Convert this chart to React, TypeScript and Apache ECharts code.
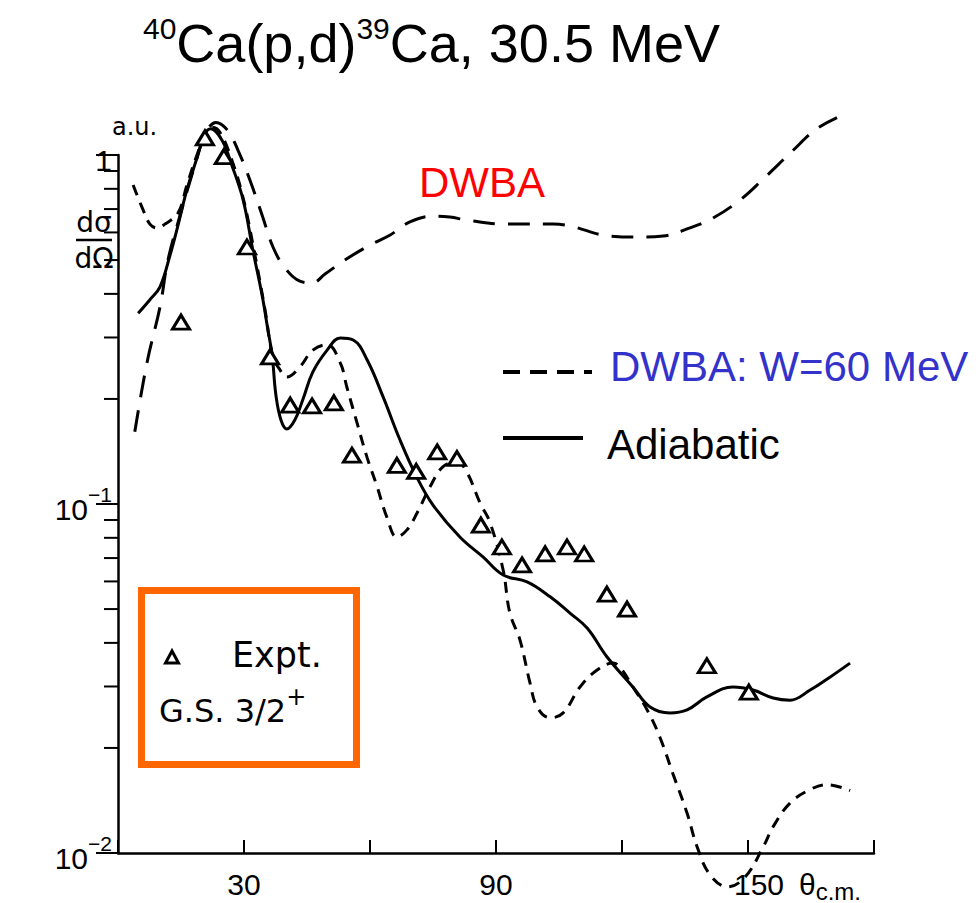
import React, { useEffect, useRef } from "react";
import * as echarts from "echarts";

// ---------- data ----------
const exptTheta = [15.0, 20.7, 25.2, 30.7, 36.2, 41.0, 46.2, 51.4, 55.7, 66.4, 71.0, 76.0, 80.7, 86.4, 91.4, 96.2, 101.7, 106.9, 111.0, 116.4, 121.2, 140.2, 150.2];
const exptSigma = [0.332, 1.12, 0.99, 0.545, 0.264, 0.192, 0.191, 0.195, 0.138, 0.129, 0.124, 0.141, 0.135, 0.087, 0.0753, 0.0669, 0.072, 0.0753, 0.0719, 0.0552, 0.05, 0.0344, 0.0289];

const adiabaticTheta = [4.8, 7.6, 10.0, 12.4, 14.3, 16.4, 18.8, 20.7, 22.1, 24.8, 27.1, 29.8, 32.1, 34.3, 35.7, 36.7, 37.6, 38.8, 40.2, 42.1, 44.0, 46.4, 49.8, 52.9, 56.0, 59.3, 63.1, 67.1, 71.2, 75.0, 81.4, 86.9, 91.7, 97.4, 102.9, 107.6, 111.7, 116.4, 122.6, 126.7, 131.4, 135.5, 140.2, 146.4, 151.2, 156.0, 160.0, 164.8, 169.5, 174.3];
const adiabaticSigma = [0.352, 0.385, 0.419, 0.517, 0.63, 0.794, 0.98, 1.15, 1.19, 1.10, 0.935, 0.743, 0.534, 0.397, 0.315, 0.267, 0.205, 0.174, 0.164, 0.174, 0.199, 0.239, 0.276, 0.299, 0.295, 0.259, 0.203, 0.153, 0.119, 0.0993, 0.0804, 0.0705, 0.0626, 0.0598, 0.0542, 0.0487, 0.0441, 0.0365, 0.0299, 0.0262, 0.0252, 0.0257, 0.028, 0.0299, 0.0293, 0.0278, 0.0274, 0.0293, 0.0319, 0.035];

const w60Theta = [3.6, 6.0, 7.6, 9.3, 11.2, 14.3, 16.4, 18.8, 20.7, 22.4, 24.3, 27.1, 29.8, 32.6, 35.0, 36.9, 38.6, 40.2, 43.3, 46.4, 49.8, 52.9, 54.5, 56.9, 59.3, 61.7, 64.0, 66.4, 68.8, 71.2, 74.3, 77.4, 80.7, 83.1, 86.2, 88.6, 91.7, 93.3, 95.7, 98.1, 99.8, 102.9, 106.0, 110.0, 114.0, 117.9, 119.5, 122.6, 126.0, 129.0, 132.1, 135.5, 137.9, 141.0, 145.2, 149.3, 153.6, 156.0, 160.0, 164.8, 168.8, 174.3];
const w60Sigma = [0.82, 0.695, 0.634, 0.618, 0.634, 0.682, 0.82, 1.0, 1.14, 1.20, 1.16, 0.967, 0.753, 0.517, 0.36, 0.264, 0.242, 0.231, 0.247, 0.276, 0.286, 0.254, 0.216, 0.171, 0.136, 0.112, 0.0918, 0.0804, 0.0843, 0.0942, 0.112, 0.128, 0.132, 0.123, 0.1007, 0.0883, 0.0647, 0.0487, 0.0408, 0.0307, 0.0262, 0.0244, 0.0252, 0.0299, 0.0334, 0.035, 0.0341, 0.0299, 0.0257, 0.0215, 0.0169, 0.013, 0.0104, 0.00865, 0.008, 0.00853, 0.0104, 0.0119, 0.0139, 0.0152, 0.0157, 0.0151];

const dwbaTheta = [4.0, 6.9, 10.0, 11.9, 14.8, 18.3, 20.7, 23.3, 26.0, 28.6, 31.4, 34.3, 36.9, 39.8, 43.3, 46.2, 49.3, 54.0, 60.0, 64.8, 69.5, 75.0, 79.0, 83.1, 91.7, 103.6, 107.6, 117.1, 124.3, 129.8, 136.2, 141.7, 148.1, 153.6, 160.7, 166.0, 171.2];
const dwbaSigma = [0.161, 0.254, 0.367, 0.5, 0.673, 0.935, 1.14, 1.24, 1.18, 1.03, 0.848, 0.673, 0.545, 0.474, 0.435, 0.43, 0.456, 0.5, 0.552, 0.59, 0.643, 0.668, 0.664, 0.651, 0.634, 0.634, 0.626, 0.586, 0.582, 0.586, 0.618, 0.66, 0.743, 0.853, 1.03, 1.18, 1.28];

const xTickLabels = ["30", "90", "150"];
const yMinorTicks = [0.9, 0.8, 0.7, 0.6, 0.5, 0.4, 0.3, 0.2, 0.09, 0.08, 0.07, 0.06, 0.05, 0.04, 0.03, 0.02];

const titleParts = ["40", "Ca(p,d)", "39", "Ca, 30.5 MeV"];
const legendW60 = "DWBA: W=60 MeV";
const legendAdiabatic = "Adiabatic";
const labelDWBA = "DWBA";

const SANS = "'Liberation Sans', Arial, sans-serif";
const OLD = "'DejaVu Sans', sans-serif";

const zip = (a: number[], b: number[]) => a.map((v, i) => [v, b[i]]);

export default function App() {
  const ref = useRef<HTMLDivElement>(null);
  useEffect(() => {
    if (!ref.current) return;
    const chart = echarts.init(ref.current, null, { renderer: "svg" });
    const option: any = {
      animation: false,
      backgroundColor: "#ffffff",
      grid: { left: 118, right: 102, top: 155, bottom: 50 },
      xAxis: {
        type: "value",
        min: 0,
        max: 180,
        interval: 30,
        splitLine: { show: false },
        axisLine: { onZero: false, lineStyle: { color: "#000", width: 2.5 } },
        axisTick: { inside: true, length: 13, lineStyle: { color: "#000", width: 2 } },
        axisLabel: {
          margin: 16,
          color: "#000",
          fontSize: 30,
          fontFamily: SANS,
          formatter: (v: number) => {
            const s = String(v);
            if (!xTickLabels.includes(s)) return "";
            return s === "150" ? "{r|" + s + "}" : s;
          },
          rich: { r: { fontSize: 30, fontFamily: SANS, color: "#000", padding: [0, 0, 0, 22] } },
        },
      },
      yAxis: {
        type: "log",
        logBase: 10,
        min: 0.01,
        max: 1,
        splitLine: { show: false },
        axisLine: { show: true, onZero: false, lineStyle: { color: "#000", width: 2.5 } },
        axisTick: { show: true, length: 22, lineStyle: { color: "#000", width: 2 } },
        axisLabel: {
          margin: 6,
          color: "#000",
          fontSize: 30,
          fontFamily: SANS,
          formatter: (v: number) => {
            const e = Math.round(Math.log10(v));
            if (e === 0) return "{n|1}";
            return "{n|10}{s|\u2212" + Math.abs(e) + "}";
          },
          rich: {
            n: { fontSize: 30, fontFamily: SANS, color: "#000", lineHeight: 40, verticalAlign: "bottom" },
            s: { fontSize: 21, fontFamily: SANS, color: "#000", lineHeight: 22, verticalAlign: "top" },
          },
        },
      },
      series: [
        {
          type: "custom",
          name: "minorTicks",
          silent: true,
          clip: false,
          encode: { x: 0, y: 1 },
          data: yMinorTicks.map((v) => [0, v]),
          renderItem: (_p: any, api: any) => {
            const pt = api.coord([api.value(0), api.value(1)]);
            return {
              type: "line",
              shape: { x1: pt[0] - 14, y1: pt[1], x2: pt[0], y2: pt[1] },
              style: { stroke: "#000", lineWidth: 2 },
            };
          },
        },
        {
          type: "line",
          name: "DWBA",
          data: zip(dwbaTheta, dwbaSigma),
          smooth: 0.4,
          showSymbol: false,
          clip: false,
          lineStyle: { color: "#000", width: 3, type: [22, 13] },
        },
        {
          type: "line",
          name: legendW60,
          data: zip(w60Theta, w60Sigma),
          smooth: 0.4,
          showSymbol: false,
          clip: false,
          lineStyle: { color: "#000", width: 3, type: [11, 8] },
        },
        {
          type: "line",
          name: legendAdiabatic,
          data: zip(adiabaticTheta, adiabaticSigma),
          smooth: 0.4,
          showSymbol: false,
          clip: false,
          lineStyle: { color: "#000", width: 3 },
        },
        {
          type: "scatter",
          name: "Expt.",
          data: zip(exptTheta, exptSigma),
          symbol: "triangle",
          symbolSize: [17, 14],
          clip: false,
          z: 5,
          itemStyle: { color: "#fff", borderColor: "#000", borderWidth: 3, opacity: 1 },
        },
      ],
      graphic: [
        {
          type: "text",
          x: 143,
          y: 43,
          style: {
            text: "{s|" + titleParts[0] + "}{m|" + titleParts[1] + "}{s|" + titleParts[2] + "}{m|" + titleParts[3] + "}",
            verticalAlign: "middle",
            rich: {
              m: { fontSize: 54, fontFamily: SANS, fill: "#000", lineHeight: 60 },
              s: { fontSize: 30, fontFamily: SANS, fill: "#000", lineHeight: 30, verticalAlign: "top" },
            },
          },
        },
        { type: "text", x: 112, y: 127, style: { text: "a.u.", font: "24px " + OLD, fill: "#000", verticalAlign: "middle" } },
        { type: "text", x: 94, y: 222, style: { text: "d\u03c3", font: "28px " + OLD, fill: "#000", align: "center", verticalAlign: "middle" } },
        { type: "line", shape: { x1: 76, y1: 240, x2: 112, y2: 240 }, style: { stroke: "#000", lineWidth: 2.5 } },
        { type: "text", x: 94, y: 258, style: { text: "d\u03a9", font: "28px " + OLD, fill: "#000", align: "center", verticalAlign: "middle" } },
        { type: "text", x: 419, y: 182, style: { text: labelDWBA, font: "42px " + SANS, fill: "#ff0000", verticalAlign: "middle" } },
        { type: "line", shape: { x1: 503, y1: 372, x2: 592, y2: 372 }, style: { stroke: "#000", lineWidth: 4, lineDash: [17, 10] } },
        { type: "text", x: 610, y: 366, style: { text: legendW60, font: "42px " + SANS, fill: "#3333cc", verticalAlign: "middle" } },
        { type: "line", shape: { x1: 503, y1: 438, x2: 583, y2: 438 }, style: { stroke: "#000", lineWidth: 4 } },
        { type: "text", x: 607, y: 444, style: { text: legendAdiabatic, font: "42px " + SANS, fill: "#000", verticalAlign: "middle" } },
        { type: "rect", shape: { x: 141.5, y: 590.5, width: 215, height: 174 }, style: { fill: "none", stroke: "#ff6600", lineWidth: 7 } },
        { type: "polygon", shape: { points: [[172, 651], [165.5, 663], [178.5, 663]] }, style: { fill: "#fff", stroke: "#000", lineWidth: 3 } },
        { type: "text", x: 232, y: 655, style: { text: "Expt.", font: "35px " + OLD, fill: "#000", verticalAlign: "middle" } },
        {
          type: "text",
          x: 159,
          y: 706,
          style: {
            text: "{m|G.S. 3/2}{s|+}",
            verticalAlign: "middle",
            rich: {
              m: { fontSize: 32, fontFamily: OLD, fill: "#000", lineHeight: 42, verticalAlign: "bottom" },
              s: { fontSize: 24, fontFamily: OLD, fill: "#000", lineHeight: 24, verticalAlign: "top" },
            },
          },
        },
        {
          type: "text",
          x: 799,
          y: 886,
          style: {
            text: "{m|\u03b8}{s|c.m.}",
            verticalAlign: "middle",
            rich: {
              m: { fontSize: 30, fontFamily: SANS, fill: "#000", lineHeight: 34, verticalAlign: "top" },
              s: { fontSize: 24, fontFamily: SANS, fill: "#000", lineHeight: 24, verticalAlign: "bottom" },
            },
          },
        },
      ],
    };
    chart.setOption(option);
    return () => chart.dispose();
  }, []);
  return (
    <div
      ref={ref}
      style={{ position: "fixed", left: 0, top: 0, width: 976, height: 903, background: "#fff" }}
    />
  );
}
